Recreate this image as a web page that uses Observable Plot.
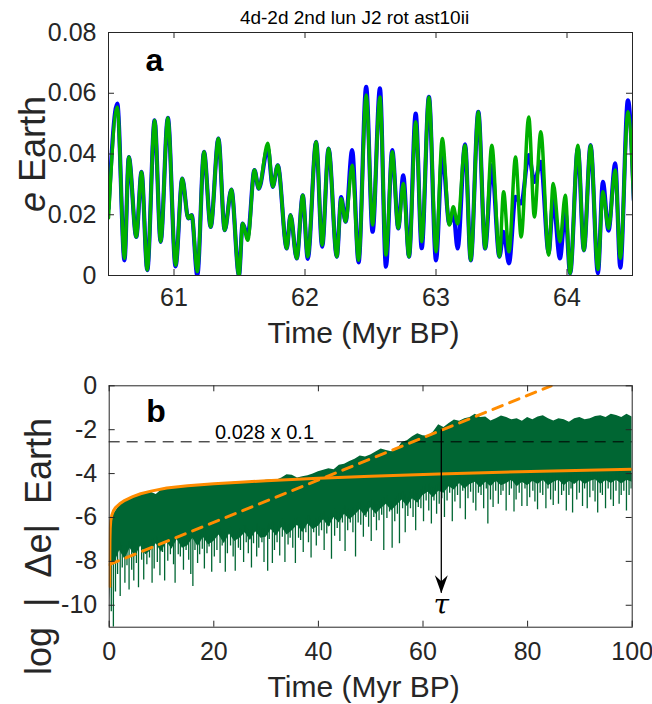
<!DOCTYPE html>
<html><head><meta charset="utf-8">
<script src="https://cdn.jsdelivr.net/npm/d3@7"></script>
<script src="https://cdn.jsdelivr.net/npm/@observablehq/plot@0.6"></script>
<style>
body{margin:0;background:#fff;}
#chart svg{display:block;}
</style></head><body><div id="chart"></div>
<script>
// ---------- Panel a data ----------
const titleA = "4d-2d 2nd lun J2 rot ast10ii";
const aXTicks = [61, 62, 63, 64];
const aYTicks = [0, 0.02, 0.04, 0.06, 0.08];
const aT = [
 60.50, 60.567, 60.622, 60.655, 60.712, 60.752, 60.796, 60.852, 60.898, 60.953,
 61.012, 61.063, 61.109, 61.135, 61.178, 61.229, 61.28, 61.339, 61.387, 61.438,
 61.496, 61.524, 61.563, 61.614, 61.647, 61.716, 61.754, 61.792, 61.861, 61.889,
 61.937, 61.983, 62.021, 62.085, 62.131, 62.18, 62.243, 62.276, 62.31, 62.36,
 62.409, 62.467, 62.516, 62.572, 62.618, 62.666, 62.712, 62.75, 62.794, 62.845,
 62.891, 62.946, 63.0, 63.048, 63.102, 63.132, 63.165, 63.222, 63.265, 63.323,
 63.375, 63.426, 63.484, 63.516, 63.557, 63.607, 63.65, 63.708, 63.751, 63.80,
 63.86, 63.895, 63.946, 63.987, 64.024, 64.083, 64.129, 64.18, 64.236, 64.274,
 64.317, 64.368, 64.407, 64.465, 64.51];
const aGreen = [
 0.019, 0.0555, 0.0056, 0.039, 0.0127, 0.0341, 0.0018, 0.0511, 0.0111, 0.0519,
 0.0034, 0.0319, 0.0188, 0.0199, 0.0012, 0.0407, 0.016, 0.0451, 0.0149, 0.0283,
 0.0, 0.0171, 0.0116, 0.0347, 0.0286, 0.0435, 0.0292, 0.0363, 0.0089, 0.0199,
 0.0056, 0.0264, 0.0062, 0.044, 0.01, 0.0418, 0.0062, 0.0253, 0.0177, 0.0363,
 0.005, 0.0594, 0.0166, 0.0588, 0.0067, 0.0407, 0.0155, 0.0303, 0.0062, 0.0506,
 0.0111, 0.0588, 0.0078, 0.0451, 0.0166, 0.0226, 0.017, 0.0429, 0.005, 0.0539,
 0.0089, 0.0429, 0.0062, 0.0276, 0.0078, 0.039, 0.0127, 0.0522, 0.0193, 0.0473,
 0.0067, 0.0303, 0.0111, 0.0264, 0.0007, 0.0429, 0.0083, 0.0429, 0.002, 0.0276,
 0.0155, 0.0347, 0.0056, 0.0539, 0.0237];
const aBlue = [
 0.022, 0.0566, 0.005, 0.039, 0.0127, 0.0341, 0.0018, 0.0511, 0.0111, 0.0519,
 0.003, 0.0319, 0.0188, 0.0199, 0.0, 0.0407, 0.016, 0.0451, 0.0149, 0.0283,
 0.0, 0.0171, 0.013, 0.0347, 0.0286, 0.042, 0.0292, 0.0363, 0.0089, 0.0199,
 0.0056, 0.0264, 0.0055, 0.044, 0.0095, 0.0418, 0.0062, 0.0258, 0.0177, 0.0413,
 0.0043, 0.0621, 0.0144, 0.0616, 0.0029, 0.0413, 0.0155, 0.033, 0.0062, 0.0533,
 0.009, 0.0588, 0.005, 0.0402, 0.017, 0.021, 0.0089, 0.0432, 0.005, 0.0539,
 0.0089, 0.0363, 0.0062, 0.0144, 0.004, 0.0259, 0.0237, 0.0396, 0.0308, 0.0374,
 0.0075, 0.0248, 0.0056, 0.021, 0.0007, 0.042, 0.0083, 0.0429, 0.0007, 0.0308,
 0.0148, 0.0369, 0.0026, 0.0577, 0.025];

// ---------- Panel b data ----------
const bXTicks = [0, 20, 40, 60, 80, 100];
const bYTicks = [0, -2, -4, -6, -8, -10];
const bT = [0.1, 0.3, 0.6,
 1,2,3,4,5,6,7,8,9,10,11,12,13,14,15,16,17,18,19,20,
 21,22,23,24,25,26,27,28,29,30,31,32,33,34,35,36,37,38,39,40,
 41,42,43,44,45,46,47,48,49,50,51,52,53,54,55,56,57,58,59,60,
 61,62,63,64,65,66,67,68,69,70,71,72,73,74,75,76,77,78,79,80,
 81,82,83,84,85,86,87,88,89,90,91,92,93,94,95,96,97,98,99,100];
const bUpper = [-7.2, -6.2, -5.95,
 -5.8,-5.45,-5.25,-5.1,-5.0,-4.95,-4.9,-4.85,-4.95,-4.75,-4.7,-4.68,-4.62,-4.55,-4.6,-4.55,-4.52,-4.5,-4.5,-4.46,
 -4.47,-4.44,-4.42,-4.4,-4.4,-4.38,-4.36,-4.36,-4.35,-4.3,-4.28,-4.3,-4.2,-4.05,-4.08,-4.2,-4.15,-4.1,-4.02,-3.92,
 -3.85,-3.78,-3.82,-3.62,-3.58,-3.45,-3.35,-3.2,-3.25,-3.15,-3.02,-2.88,-2.95,-3.0,-2.92,-2.58,-2.5,-2.32,-2.18,-2.28,
 -2.3,-2.1,-1.78,-1.9,-1.72,-1.56,-1.62,-1.5,-1.45,-1.3,-1.45,-1.42,-1.6,-1.5,-1.38,-1.45,-1.55,-1.5,-1.62,-1.45,
 -1.55,-1.42,-1.36,-1.5,-1.6,-1.5,-1.55,-1.66,-1.5,-1.45,-1.55,-1.5,-1.4,-1.36,-1.45,-1.3,-1.35,-1.45,-1.3,-1.42];
const bLower = [-9.8, -8.8, -8.2,
 -8.1,-7.5,-7.9,-7.4,-7.8,-7.3,-7.7,-7.5,-7.2,-7.6,-7.1,-7.45,-7.0,-7.4,-7.3,-6.95,-7.35,-6.9,-7.25,-7.1,
 -6.8,-7.2,-6.75,-7.1,-6.95,-6.7,-7.05,-6.65,-6.95,-6.9,-6.55,-6.85,-6.45,-6.8,-6.6,-6.35,-6.7,-6.3,-6.55,-6.4,
 -6.1,-6.45,-6.0,-6.25,-5.85,-6.1,-5.9,-5.65,-5.95,-5.55,-5.85,-5.6,-5.4,-5.7,-5.45,-5.2,-5.5,-5.15,-5.35,-5.0,
 -4.85,-5.1,-4.8,-4.9,-4.6,-4.75,-4.45,-4.7,-4.5,-4.4,-4.65,-4.4,-4.6,-4.35,-4.55,-4.45,-4.3,-4.6,-4.4,-4.55,
 -4.35,-4.5,-4.3,-4.55,-4.4,-4.3,-4.55,-4.35,-4.5,-4.3,-4.5,-4.35,-4.28,-4.5,-4.32,-4.45,-4.3,-4.48,-4.3,-4.4];
// [time, lowest value reached by a downward spike]
const spikes = [
 [0.4,-10.3],[0.8,-11],[1.2,-9.4],[1.6,-8.6],[2.1,-9.6],[2.5,-8.3],[3.0,-9.0],[3.4,-8.2],[3.8,-9.3],[4.3,-8.4],
 [4.7,-8.9],[5.2,-8.1],[5.6,-9.2],[6.2,-7.95],[6.6,-8.85],[7.2,-8.15],[7.7,-7.85],[8.2,-9.0],[8.6,-8.35],[9.2,-8.05],
 [9.7,-8.65],[10.2,-7.6],[10.6,-8.9],[11.2,-8.0],[11.7,-7.7],[12.3,-8.15],[12.6,-9.0],[13.2,-7.7],[13.6,-7.8],[14.2,-8.4],
 [14.7,-7.5],[15.2,-7.95],[15.6,-8.6],[16.0,-9.15],[16.4,-7.5],[16.9,-8.1],[17.3,-7.7],[17.8,-7.45],[18.2,-8.35],[18.7,-7.65],
 [19.1,-7.35],[19.6,-8.5],[20.1,-7.8],[20.6,-7.5],[21.2,-8.1],[21.6,-7.3],[22.2,-8.5],[22.6,-7.65],[23.2,-7.3],[23.7,-7.8],
 [24.1,-8.45],[24.7,-7.4],[25.1,-7.5],[25.7,-8.05],[26.2,-7.15],[26.6,-7.65],[27.2,-8.3],[27.6,-7.2],[28.2,-7.8],[28.6,-7.4],
 [29.2,-7.15],[29.6,-8.05],[30.3,-8.45],[30.6,-7.0],[31.2,-8.1],[31.6,-7.5],[32.1,-7.15],[32.6,-7.75],[33.1,-6.9],[33.6,-8.05],
 [34.2,-7.25],[34.6,-6.95],[35.1,-7.4],[35.6,-8.1],[36.2,-6.95],[36.6,-7.05],[37.1,-7.6],[37.6,-6.7],[38.1,-7.15],[38.6,-7.85],
 [39.1,-6.7],[39.6,-7.3],[40.1,-6.85],[40.6,-6.6],[41.1,-7.5],[41.6,-6.75],[42.1,-6.4],[42.5,-7.9],[43.1,-6.85],[43.6,-6.5],
 [44.1,-7.1],[44.6,-6.25],[45.1,-7.55],[45.6,-6.6],[46.1,-6.25],[46.6,-6.7],[47.1,-7.8],[47.6,-6.25],[48.1,-6.35],[48.6,-6.9],
 [49.1,-6.0],[49.6,-6.45],[50.1,-7.1],[50.6,-6.0],[51.1,-6.6],[51.6,-6.15],[52.1,-5.9],[52.5,-7.5],[53.1,-6.05],[53.6,-5.75],
 [54.1,-7.4],[54.6,-6.2],[55.1,-5.85],[55.5,-7.2],[56.1,-5.6],[56.6,-6.7],[57.1,-5.95],[57.6,-5.6],[58.1,-6.0],[58.6,-6.6],
 [59.1,-5.55],[59.6,-5.6],[60.1,-6.2],[60.6,-5.25],[61.1,-5.7],[61.6,-6.3],[62.1,-5.25],[62.6,-5.85],[63.1,-5.4],[63.6,-5.15],
 [64.1,-6.0],[64.6,-5.25],[65.1,-4.9],[65.6,-6.2],[66.1,-5.3],[66.6,-5.0],[67.1,-5.6],[67.6,-4.8],[68.1,-6.1],[68.6,-5.15],
 [69.1,-4.85],[69.6,-5.35],[70.1,-5.7],[70.6,-4.9],[71.1,-5.0],[71.6,-5.6],[72.1,-4.7],[72.4,-6.3],[72.9,-5.2],[73.4,-5.55],
 [73.9,-4.8],[74.4,-5.4],[74.9,-5.0],[75.3,-4.8],[75.9,-5.7],[76.5,-5.0],[76.9,-4.7],[77.4,-5.75],[77.8,-5.2],[78.4,-4.9],
 [78.9,-5.5],[79.5,-4.7],[79.9,-5.5],[80.4,-5.1],[81.0,-4.8],[81.4,-5.3],[81.9,-5.65],[82.4,-4.9],[82.9,-5.0],[83.5,-5.6],
 [83.9,-4.7],[84.4,-5.2],[84.9,-5.45],[85.3,-4.8],[85.9,-5.4],[86.5,-5.0],[86.9,-4.8],[87.4,-5.7],[87.9,-5.0],[88.3,-4.7],
 [88.6,-5.8],[89.4,-5.2],[89.9,-4.9],[90.5,-5.5],[90.9,-4.7],[91.4,-5.6],[91.9,-5.1],[92.5,-4.8],[92.9,-5.3],[93.4,-5.8],
 [93.9,-4.9],[94.3,-5.0],[94.9,-5.6],[95.4,-4.7],[95.9,-5.2],[96.4,-5.5],[96.9,-4.8],[97.5,-5.4],[97.9,-5.0],[98.4,-4.8],
 [98.9,-5.7],[99.4,-5.0],[99.8,-4.7]];
const fitT = [0.1, 0.12, 0.15, 0.2, 0.3, 0.5, 0.8, 1.2, 2, 3, 4.5, 6, 8, 11, 15, 20, 25, 30, 35, 40, 50, 63, 75, 87, 100];
const fitY = [-9.15, -8.0, -7.0, -6.5, -6.15, -5.9, -5.7, -5.55, -5.38, -5.22, -5.05, -4.92, -4.8, -4.66, -4.55, -4.46, -4.39, -4.33, -4.27, -4.21, -4.12, -4.02, -3.94, -3.87, -3.8];
const trendT = [0, 84.5];
const trendY = [-8.15, 0];
const thresholdY = [-2.553];
const thresholdLabel = ["0.028 x 0.1"];
const thresholdLabelT = [29.7];
const tauT = [63.5];
const tauTop = [-2.0];
const tauTip = [-9.45];
const tauLabelY = [-10.0];

// ---------- styling ----------
const FONT = "'Liberation Sans', Arial, Helvetica, sans-serif";
const AX = "#262626";
const TICK = 6;

function boxTicks(xt, yt, W, H) {
  return [
    Plot.tickX(xt, {x: d => d, insetTop: H - TICK, stroke: AX}),
    Plot.tickX(xt, {x: d => d, insetBottom: H - TICK, stroke: AX}),
    Plot.tickY(yt, {y: d => d, insetRight: W - TICK, stroke: AX}),
    Plot.tickY(yt, {y: d => d, insetLeft: W - TICK, stroke: AX})
  ];
}

const styleBase = {fontFamily: FONT, fontSize: "25px", color: AX, background: "#fff", overflow: "visible"};

// ---------- Panel a ----------
const mA = {top: 32, left: 108, right: 20, bottom: 75};
const hA = 350, W = 652;
const WA = W - mA.left - mA.right, HA = hA - mA.top - mA.bottom;
const aRows = aT.map((t, i) => ({t, g: aGreen[i], b: aBlue[i]}));

const plotA = Plot.plot({
  width: W, height: hA,
  marginTop: mA.top, marginLeft: mA.left, marginRight: mA.right, marginBottom: mA.bottom,
  style: styleBase,
  x: {domain: [60.5, 64.5], label: null},
  y: {domain: [0, 0.08], label: null},
  marks: [
    Plot.line(aRows, {x: "t", y: "b", stroke: "#0000ff", strokeWidth: 4.2, curve: "monotone-x", clip: true}),
    Plot.line(aRows, {x: "t", y: "g", stroke: "#00b000", strokeWidth: 3.5, curve: "monotone-x", clip: true}),
    Plot.frame({stroke: AX, strokeWidth: 1}),
    ...boxTicks(aXTicks, aYTicks, WA, HA),
    Plot.axisX(aXTicks, {tickSize: 0, tickPadding: 13, fontSize: 25, label: null, tickFormat: d => String(d)}),
    Plot.axisY(aYTicks, {tickSize: 0, tickPadding: 12, fontSize: 25, label: null, tickFormat: d => String(d)}),
    Plot.text([titleA], {frameAnchor: "top", dx: -16, dy: -9, lineAnchor: "bottom", fontSize: 19, fill: "#000"}),
    Plot.text(["a"], {frameAnchor: "top-left", dx: 37, dy: 38, lineAnchor: "bottom", fontSize: 32, fontWeight: "bold", fill: "#000"}),
    Plot.text(["Time (Myr BP)"], {frameAnchor: "bottom", dx: -7, dy: 67, lineAnchor: "bottom", fontSize: 30, fill: AX}),
    Plot.text(["e Earth"], {frameAnchor: "left", dx: -64, rotate: -90, textAnchor: "middle", lineAnchor: "bottom", fontSize: 36, fill: AX})
  ]
});

// ---------- Panel b ----------
const mB = {top: 35.3, left: 108.7, right: 20.3, bottom: 77.3};
const hB = 354;
const WB = W - mB.left - mB.right, HB = hB - mB.top - mB.bottom;
const bRows = bT.map((t, i) => ({t, lo: bLower[i], hi: bUpper[i]}));
function lowerAt(t) {
  const i = Math.max(1, Math.min(bT.length - 1, d3.bisectLeft(bT, t)));
  const t0 = bT[i - 1], t1 = bT[i];
  const f = (t - t0) / (t1 - t0);
  return bLower[i - 1] + f * (bLower[i] - bLower[i - 1]);
}
const spikeRows = spikes.map(([t, tip]) => ({t, tip, base: lowerAt(t) + 0.4}));
const fitRows = fitT.map((t, i) => ({t, y: fitY[i]}));
const trendRows = trendT.map((t, i) => ({t, y: trendY[i]}));
const tauRows = tauT.map((t, i) => ({t, top: tauTop[i], tip: tauTip[i], ly: tauLabelY[i]}));

const stealth = {
  draw(ctx) {
    ctx.moveTo(0, 0);
    ctx.lineTo(-6.5, -18);
    ctx.lineTo(0, -12);
    ctx.lineTo(6.5, -18);
    ctx.closePath();
  }
};

const plotB = Plot.plot({
  width: W, height: hB,
  marginTop: mB.top, marginLeft: mB.left, marginRight: mB.right, marginBottom: mB.bottom,
  style: styleBase,
  x: {domain: [0, 100], label: null},
  y: {domain: [-11, 0], label: null},
  marks: [
    Plot.areaY(bRows, {x: "t", y1: "lo", y2: "hi", fill: "#006633", clip: true}),
    Plot.ruleX(spikeRows, {x: "t", y1: "tip", y2: "base", stroke: "#006633", strokeWidth: 1.3, clip: true}),
    Plot.ruleY(thresholdY, {stroke: "#000", strokeWidth: 1, strokeDasharray: "11,7"}),
    Plot.line(trendRows, {x: "t", y: "y", stroke: "#ff8c00", strokeWidth: 3, strokeDasharray: "10,8", clip: true}),
    Plot.line(fitRows, {x: "t", y: "y", stroke: "#ff8c00", strokeWidth: 3, clip: true}),
    Plot.text(thresholdLabel, {x: thresholdLabelT, y: thresholdY, dy: -3, lineAnchor: "bottom", fontSize: 20, fill: "#000"}),
    Plot.ruleX(tauRows, {x: "t", y1: "top", y2: "tip", stroke: "#000", strokeWidth: 1.3}),
    Plot.dot(tauRows, {x: "t", y: "tip", symbol: stealth, fill: "#000", stroke: "none"}),
    Plot.text(tauRows, {x: "t", y: "ly", text: () => "τ", fontSize: 28, fontStyle: "italic", fontFamily: "'DejaVu Serif', serif", fill: "#000"}),
    Plot.frame({stroke: AX, strokeWidth: 1}),
    ...boxTicks(bXTicks, bYTicks, WB, HB),
    Plot.axisX(bXTicks, {tickSize: 0, tickPadding: 15, fontSize: 25, label: null, tickFormat: d => String(d)}),
    Plot.axisY(bYTicks, {tickSize: 0, tickPadding: 12, fontSize: 25, label: null, tickFormat: d => String(d)}),
    Plot.text(["b"], {frameAnchor: "top-left", dx: 37, dy: 36, lineAnchor: "bottom", fontSize: 32, fontWeight: "bold", fill: "#000"}),
    Plot.text(["Time (Myr BP)"], {frameAnchor: "bottom", dx: -7, dy: 70, lineAnchor: "bottom", fontSize: 30, fill: AX}),
    Plot.text(["log  |  Δe|  Earth"], {frameAnchor: "left", dx: -58, rotate: -90, textAnchor: "middle", lineAnchor: "bottom", fontSize: 36, fill: AX})
  ]
});

const root = document.getElementById("chart");
root.appendChild(plotA);
root.appendChild(plotB);

// italic "e" in panel a y label
d3.select(plotA).selectAll("text").each(function () {
  if (this.textContent === "e Earth") {
    const el = d3.select(this);
    el.text(null);
    el.append("tspan").attr("font-style", "italic").text("e");
    el.append("tspan").text(" Earth");
  }
});
// panel b y label sits 40px below the frame centre, as in the original
d3.select(plotB).selectAll("text").each(function () {
  if (this.textContent === "log  |  Δe|  Earth") {
    this.setAttribute("xml:space", "preserve");
    this.style.whiteSpace = "pre";
    const tr = this.getAttribute("transform") || "";
    this.setAttribute("transform", "translate(0,40) " + tr);
  }
});
</script>
</body></html>
